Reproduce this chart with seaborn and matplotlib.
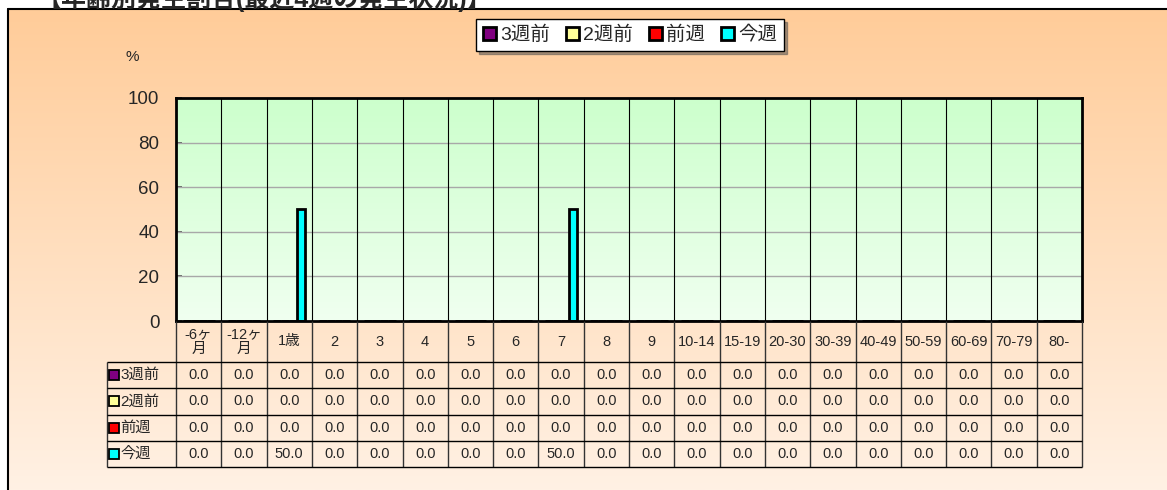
import numpy as np
import pandas as pd
import matplotlib
matplotlib.use("Agg")
import matplotlib.pyplot as plt
from matplotlib.colors import LinearSegmentedColormap
import seaborn as sns

# data
age_groups = ["-6ヶ\n月", "-12ヶ\n月", "1歳", "2", "3", "4", "5", "6", "7", "8", "9",
              "10-14", "15-19", "20-30", "30-39", "40-49", "50-59", "60-69", "70-79", "80-"]
weeks = ["3週前", "2週前", "前週", "今週"]
week3_before = [0.0] * 20
week2_before = [0.0] * 20
last_week = [0.0] * 20
this_week = [0.0, 0.0, 50.0, 0.0, 0.0, 0.0, 0.0, 0.0, 50.0, 0.0,
             0.0, 0.0, 0.0, 0.0, 0.0, 0.0, 0.0, 0.0, 0.0, 0.0]
week_colors = ["#800080", "#FFFF99", "#FF0000", "#00FFFF"]
title = "【年齢別発生割合(最近4週の発生状況)】"

series = [week3_before, week2_before, last_week, this_week]
df = pd.DataFrame({
    "age": age_groups * 4,
    "week": [w for w in weeks for _ in age_groups],
    "value": [v for s in series for v in s],
})

sns.set_theme(style="white")
plt.rcParams["font.family"] = ["Liberation Sans", "Noto Sans CJK JP", "DejaVu Sans"]

W, H = 1167, 490
fig = plt.figure(figsize=(W / 100, H / 100), dpi=100)
fig.patch.set_facecolor("white")

# background with peach gradient and frame
bg = fig.add_axes([0, 0, 1, 1], zorder=-10)
grad = np.linspace(0, 1, 256).reshape(-1, 1)
peach = LinearSegmentedColormap.from_list("peach", ["#FFCC99", "#FFF1E4"])
bg.imshow(grad, cmap=peach, aspect="auto", origin="upper",
          extent=(8 / W, 1, 0, 1 - 9 / H))
bg.plot([8 / W, 8 / W], [0, 1 - 9 / H], color="black", lw=1.5)
bg.plot([8 / W, 1], [1 - 9 / H, 1 - 9 / H], color="black", lw=1.5)
bg.set_xlim(0, 1)
bg.set_ylim(0, 1)
bg.axis("off")

fig.text(492 / W, 1 - 12 / H, title, ha="right", va="bottom",
         fontsize=18, fontweight="bold")

# main plot
ax = fig.add_axes([176 / W, 1 - 321 / H, 906 / W, 223 / H])
ax.patch.set_visible(False)
green = LinearSegmentedColormap.from_list("green", ["#CCFFCC", "#F0FFF0"])
ax.imshow(grad, cmap=green, aspect="auto", origin="upper",
          extent=(-0.5, len(age_groups) - 0.5, 0, 100), zorder=0)

sns.barplot(data=df, x="age", y="value", hue="week", order=age_groups,
            hue_order=weeks, palette=dict(zip(weeks, week_colors)),
            saturation=1, width=0.7, edgecolor="black", linewidth=2,
            ax=ax, zorder=3)

for v in [20, 40, 60, 80]:
    ax.axhline(v, color="#A8A8A8", lw=1, zorder=1)
for i in range(1, len(age_groups)):
    ax.axvline(i - 0.5, color="black", lw=0.8, zorder=1)

ax.set_xlim(-0.5, len(age_groups) - 0.5)
ax.set_ylim(0, 100)
ax.set_xticks([])
ax.set_yticks(range(0, 101, 20))
ax.tick_params(axis="y", labelsize=13.5, pad=12, direction="in",
               length=4, color="#555555", left=True)
ax.set_xlabel("")
ax.set_ylabel("")
for sp in ax.spines.values():
    sp.set_color("black")
    sp.set_linewidth(2)
    sp.set_zorder(5)

fig.text(132 / W, 1 - 57 / H, "%", ha="center", va="center", fontsize=11)

handles, labels = ax.get_legend_handles_labels()
ax.get_legend().remove()
leg = fig.legend(handles, labels, loc="center", bbox_to_anchor=(630 / W, 1 - 35 / H),
                 ncol=4, frameon=True, fancybox=False, shadow=True,
                 edgecolor="black", facecolor="white", framealpha=1,
                 handlelength=0.7, handleheight=0.7, handletextpad=0.2,
                 columnspacing=0.8, borderpad=0.35, fontsize=14)
leg.get_frame().set_linewidth(1)

# data table under the plot
tab = fig.add_axes([107 / W, 1 - 467 / H, 975 / W, 146 / H])
lead = 69 / 45.3
left = -0.5 - lead
header_h = 41
row_h = 105 / 4
tab.set_xlim(left, len(age_groups) - 0.5)
tab.set_ylim(146, 0)
tab.axis("off")

tab.vlines([i - 0.5 for i in range(len(age_groups) + 1)], 0, 146,
           color="#333333", lw=1, clip_on=False)
tab.vlines(left, header_h, 146, color="#333333", lw=1, clip_on=False)
tab.hlines([header_h + k * row_h for k in range(5)], left, len(age_groups) - 0.5,
           color="black", lw=1, clip_on=False)

for i, lab in enumerate(age_groups):
    tab.text(i, header_h / 2, lab, ha="center", va="center", fontsize=10.5,
             linespacing=1.1)

for r, (name, vals, col) in enumerate(zip(weeks, series, week_colors)):
    y = header_h + (r + 0.5) * row_h
    tab.plot(left + 0.16, y, marker="s", ms=7, mfc=col, mec="black",
             mew=1.3, clip_on=False)
    tab.text(left + 0.3, y, name, ha="left", va="center", fontsize=11)
    for i, v in enumerate(vals):
        tab.text(i, y, f"{v:.1f}", ha="center", va="center", fontsize=10.5)

fig.savefig("out.png", dpi=100)
